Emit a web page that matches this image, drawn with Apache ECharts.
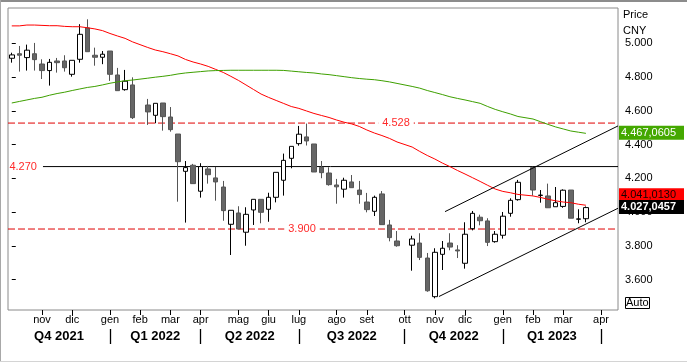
<!DOCTYPE html>
<html><head><meta charset="utf-8">
<script src="https://cdn.jsdelivr.net/npm/echarts@6/dist/echarts.min.js"></script>
<style>
html,body{margin:0;padding:0;background:#fff;}
#c{width:687px;height:364px;position:relative;}
.b{position:absolute;}
</style>
</head><body>
<div id="c"></div>
<div class="b" style="left:0;top:0;width:687px;height:2px;background:#8c8c8c"></div>
<div class="b" style="left:0;top:0;width:1px;height:362px;background:#a8a8a8"></div>
<div class="b" style="left:0;top:361px;width:687px;height:1px;background:#d4d4d4"></div>
<script>
// ---- data ----
const monthIdx   = [4, 8, 13, 17, 21, 25, 30, 34, 38, 43, 47, 52, 56, 60, 65, 69, 73, 78];
const monthNames = ['nov','dic','gen','feb','mar','apr','mag','giu','lug','ago','set','ott','nov','dic','gen','feb','mar','apr'];
const quarterBounds  = [13, 25, 38, 52, 65, 78];
const quarterCenters = [6.25, 19, 31.5, 45, 58.5, 71.5];
const quarterNames   = ['Q4 2021','Q1 2022','Q2 2022','Q3 2022','Q4 2022','Q1 2023'];
const yTicks = [3.6, 3.8, 4.0, 4.2, 4.4, 4.6, 4.8, 5.0];

// weekly candles: [open, close, low, high]; null = market closed that week
const ohlc = [
 [4.912,4.932,4.886,4.945],[4.939,4.930,4.833,4.985],[4.916,4.960,4.839,4.993],[4.939,4.904,4.839,5.003],
 [4.878,4.839,4.789,4.906],[4.839,4.888,4.750,4.908],[4.896,4.886,4.827,4.914],[4.896,4.856,4.833,4.930],
 [4.817,4.900,4.803,4.900],[4.906,5.054,4.886,5.114],[5.092,4.951,4.951,5.143],[4.930,4.918,4.868,4.975],
 [4.918,4.936,4.877,4.955],[4.955,4.817,4.778,4.955],[4.813,4.720,4.720,4.855],[4.726,4.776,4.720,4.843],
 [4.754,4.560,4.552,4.799],null,[4.635,4.594,4.517,4.671],[4.574,4.645,4.527,4.645],
 [4.647,4.566,4.483,4.647],[4.564,4.489,4.477,4.623],[4.463,4.299,4.062,4.463],[4.242,4.264,3.938,4.303],
 [4.278,4.169,4.169,4.286],[4.124,4.270,4.086,4.290],[4.256,4.222,4.169,4.274],[4.203,4.179,4.068,4.268],
 [4.149,4.009,3.949,4.185],[3.928,4.011,3.746,4.011],[3.995,3.900,3.900,4.035],[3.881,3.987,3.801,4.029],
 [4.013,4.076,3.924,4.076],[4.076,3.999,3.934,4.076],[4.017,4.088,3.943,4.115],[4.088,4.236,4.058,4.236],
 [4.189,4.307,4.098,4.347],[4.319,4.390,4.260,4.390],[4.406,4.462,4.394,4.511],[4.446,4.422,4.395,4.525],
 [4.404,4.238,4.238,4.404],[4.266,4.234,4.201,4.303],[4.232,4.163,4.157,4.266],[4.161,4.150,4.050,4.197],
 [4.136,4.189,4.086,4.204],[4.179,4.145,4.145,4.220],[4.131,4.104,4.050,4.185],[4.060,4.015,3.999,4.114],
 [4.005,4.088,3.977,4.098],[4.108,3.926,3.926,4.125],[3.924,3.849,3.827,3.954],[3.829,3.801,3.795,3.888],
 null,[3.804,3.841,3.653,3.860],[3.817,3.732,3.716,3.875],[3.728,3.534,3.528,3.758],
 [3.499,3.762,3.489,3.786],[3.750,3.786,3.657,3.829],[3.817,3.793,3.774,3.875],[3.776,3.770,3.728,3.804],
 [3.697,3.869,3.665,3.940],[3.902,3.993,3.892,4.007],[3.970,3.949,3.922,3.985],[3.948,3.821,3.799,3.964],
 [3.825,3.869,3.819,3.888],[3.863,3.976,3.843,4.001],[3.993,4.070,3.973,4.082],[4.074,4.177,4.068,4.191],
 null,[4.264,4.131,4.098,4.270],[4.099,4.101,4.056,4.131],[4.096,4.026,4.026,4.169],
 [4.032,4.056,4.032,4.149],[4.034,4.130,4.026,4.135],[4.131,3.964,3.964,4.131],[3.958,3.960,3.934,4.017],
 [3.961,4.027,3.940,4.034]
];
// red moving average
const maMid = [
 5.104,5.104,5.109,5.109,5.107,5.105,5.105,5.101,5.099,5.099,5.093,5.086,5.076,5.059,5.044,5.030,
 5.009,null,4.976,4.961,4.951,4.939,4.926,4.905,4.890,4.878,4.864,4.846,4.828,4.805,4.781,4.754,
 4.727,4.700,4.680,4.662,4.644,4.626,4.615,4.600,4.585,4.573,4.561,4.546,4.533,4.523,4.508,4.487,
 4.469,4.454,4.437,4.416,null,4.386,4.360,4.336,4.315,4.291,4.270,4.247,4.226,4.204,4.182,4.159,
 4.137,4.123,4.115,4.105,null,4.096,4.087,4.076,4.067,4.060,4.056,4.047,4.041
];
// green moving average
const maLong = [
 4.647,4.656,4.665,4.674,4.681,4.693,4.703,4.711,4.721,4.730,4.739,4.745,4.754,4.764,4.772,4.779,
 4.783,null,4.794,4.800,4.805,4.811,4.819,4.825,4.829,4.833,4.837,4.839,4.840,4.841,4.841,4.841,
 4.841,4.841,4.841,4.841,4.840,4.836,4.832,4.828,4.825,4.819,4.815,4.809,4.803,4.797,4.792,4.788,
 4.785,4.779,4.772,4.763,null,4.745,4.735,4.721,4.709,4.697,4.684,4.674,4.665,4.655,4.645,4.626,
 4.609,4.595,4.582,4.567,null,4.552,4.536,4.520,4.505,4.493,4.481,4.474,4.467
];
const levelHigh = 4.528, levelMid = 4.270, levelLow = 3.900;
const levelMidStart = 4.13;               // week index where the 4.270 line begins
const lowerChannel = [[56.55, 3.500], [80.25, 4.023]];
const upperChannel = [[57.35, 4.003], [80.25, 4.511]];
const tagLong = 4.4670605, tagMid = 4.0410130, tagLast = 4.0270457;

// ---- chart ----
const FONT = "'Liberation Sans', Arial, sans-serif";
const X_MIN = -0.5, X_MAX = 80.25;
const NONE = 'rgba(0,0,0,0)';
const fmtTag = v => { const s = v.toFixed(7); return s.slice(0, 5) + ',' + s.slice(5); };
const toXY = arr => arr.map((v, i) => v == null ? null : [i, v]).filter(Boolean);

const chart = echarts.init(document.getElementById('c'), null, {renderer: 'canvas'});
const lvlLabel = (txt) => ({show: true, position: 'middle', verticalAlign: 'middle', distance: 0,
  formatter: txt, color: '#ff2a2a', fontSize: 11, fontFamily: FONT, backgroundColor: '#fff', padding: [1, 4],
  opacity: 1});
const tagLabel = (txt, bg, fg, bold) => ({show: true, position: 'end', distance: 1, formatter: txt,
  backgroundColor: bg, color: fg, fontSize: 11, fontFamily: FONT, fontWeight: bold ? 'bold' : 'normal',
  padding: [1, 2, 1, 2], width: 61, lineHeight: 12, opacity: 1});
const hidden = {color: NONE, width: 0, type: 'solid'};
const hLine = (name, pts, color, type) => ({type: 'line', name, data: pts, showSymbol: false, symbol: 'none',
  z: 2, silent: true, lineStyle: {color, width: 1, type}});

const option = {
  animation: false,
  backgroundColor: '#fff',
  textStyle: {fontFamily: FONT},
  title: [
    {text: 'Price\nCNY', left: 623, top: 7, padding: 0,
     textStyle: {fontSize: 11, fontWeight: 'normal', lineHeight: 16, color: '#000', fontFamily: FONT}},
    {text: 'Auto', left: 625, top: 297, padding: [0, 1, 0, 1], borderColor: '#000', borderWidth: 1,
     textStyle: {fontSize: 11, fontWeight: 'normal', lineHeight: 12, color: '#000', fontFamily: FONT}}
  ],
  grid: {left: 8, top: 8, width: 610, height: 302, show: true, borderColor: '#8a8a8a', borderWidth: 1,
         backgroundColor: '#fff', outerBoundsMode: 'none', containLabel: false},
  xAxis: [
    {type: 'value', min: X_MIN, max: X_MAX, position: 'bottom',
     axisLine: {show: false}, splitLine: {show: false},
     axisTick: {show: true, customValues: monthIdx, length: 5, lineStyle: {color: '#000'}},
     axisLabel: {show: true, customValues: monthIdx, margin: 4, fontSize: 11, color: '#000', fontFamily: FONT,
       formatter: v => { const k = monthIdx.indexOf(Math.round(v)); return k >= 0 ? monthNames[k] : ''; }}},
    {type: 'value', min: X_MIN, max: X_MAX, position: 'bottom', offset: 19,
     axisLine: {show: false}, splitLine: {show: false},
     axisTick: {show: true, customValues: quarterBounds, length: 15, lineStyle: {color: '#000', width: 1.3}},
     axisLabel: {show: true, customValues: quarterCenters, margin: 1, fontSize: 13, fontWeight: 'bold',
       color: '#000', fontFamily: FONT,
       formatter: v => { const k = quarterCenters.findIndex(c => Math.abs(c - v) < 0.01); return k >= 0 ? quarterNames[k] : ''; }}}
  ],
  yAxis: {type: 'value', position: 'right', min: 3.42, max: 5.21, scale: true,
    axisLine: {show: false}, splitLine: {show: false},
    axisTick: {show: true, customValues: yTicks, length: 4, lineStyle: {color: '#000'}},
    axisLabel: {show: true, customValues: yTicks, margin: 7, fontSize: 11, color: '#000', fontFamily: FONT,
      padding: [4, 0, 0, 0], formatter: v => v.toFixed(3)}},
  series: [
    hLine('levelHigh', [[X_MIN, levelHigh], [X_MAX, levelHigh]], '#e00000', [7, 3]),
    hLine('levelLow',  [[X_MIN, levelLow],  [X_MAX, levelLow]],  '#e00000', [7, 3]),
    hLine('levelMid',  [[levelMidStart, levelMid], [X_MAX, levelMid]], '#000000', 'solid'),
    {type: 'candlestick', name: 'price', xAxisIndex: 0,
     dimensions: ['x', 'open', 'close', 'low', 'high'],
     encode: {x: 0, y: [1, 2, 3, 4]},
     data: ohlc.map((d, i) => d ? [i, d[0], d[1], d[2], d[3]] : null).filter(Boolean),
     barWidth: 5, z: 3,
     itemStyle: {color: '#fff', color0: '#666', borderColor: '#000', borderColor0: '#555', borderWidth: 1}},
    {type: 'line', name: 'maMid', data: toXY(maMid), showSymbol: false, symbol: 'none', z: 4,
     lineStyle: {color: '#ff0000', width: 1}, connectNulls: true},
    {type: 'line', name: 'maLong', data: toXY(maLong), showSymbol: false, symbol: 'none', z: 4,
     lineStyle: {color: '#3ea000', width: 1}, connectNulls: true},
    {type: 'line', name: 'lowerChannel', data: lowerChannel, showSymbol: false, symbol: 'none', z: 4,
     lineStyle: {color: '#000', width: 1}},
    {type: 'line', name: 'upperChannel', data: upperChannel, showSymbol: false, symbol: 'none', z: 4,
     lineStyle: {color: '#000', width: 1}},
    {type: 'line', name: 'labels', data: [], z: 6, clip: false, silent: true,
     markLine: {silent: true, symbol: 'none', animation: false,
       data: [
         [{coord: [levelMidStart, levelMid], lineStyle: hidden,
           label: {show: true, position: 'start', distance: 6, formatter: levelMid.toFixed(3),
                   color: '#ff2a2a', fontSize: 11, fontFamily: FONT, opacity: 1}},
          {coord: [levelMidStart + 1, levelMid]}],
         [{coord: [49.86, levelHigh], lineStyle: hidden, label: lvlLabel(levelHigh.toFixed(3))},
          {coord: [51.86, levelHigh]}],
         [{coord: [37.42, levelLow], lineStyle: hidden, label: lvlLabel(levelLow.toFixed(3))},
          {coord: [39.42, levelLow]}],
         {yAxis: tagLong, lineStyle: hidden, label: tagLabel(fmtTag(tagLong), '#44a800', '#fff', false)},
         {yAxis: tagMid + 0.06, lineStyle: hidden, label: tagLabel(fmtTag(tagMid), '#ff0000', '#1a0000', false)},
         {yAxis: tagLast, lineStyle: hidden, label: tagLabel(fmtTag(tagLast), '#000', '#fff', true)}
       ]}}
  ]
};
chart.setOption(option);
</script>
</body></html>
